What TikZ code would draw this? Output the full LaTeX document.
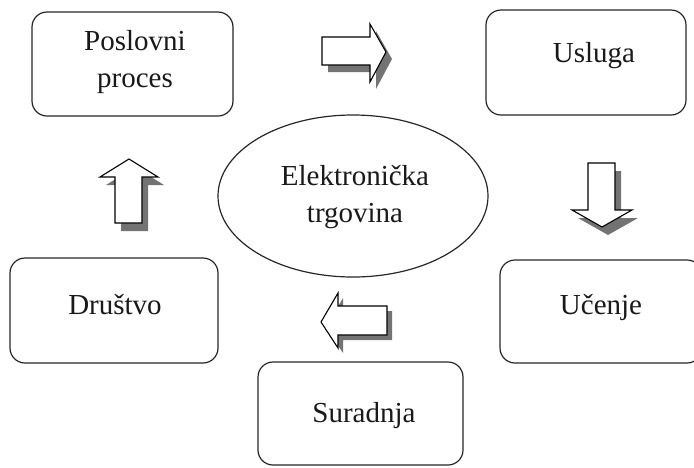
\documentclass[tikz,border=0pt]{standalone}
\usepackage{fontspec}
\setmainfont{Liberation Serif}
\begin{document}
\begin{tikzpicture}[x=1pt,y=-1pt,
  box/.style={draw=black!85,line width=1.2pt,rounded corners=15pt,fill=white},
  lbl/.style={font=\fontsize{29}{37}\selectfont,anchor=base,inner sep=0pt,text=black!90},
  arr/.style={draw=black,line width=1.1pt,fill=white,line join=miter},
  shad/.style={fill=black!55,draw=none}]
\useasboundingbox (0,0) rectangle (694,467);
% boxes
\draw[box] (32,12) rectangle (233,116);
\node[lbl] (pp1) at (135,50) {Poslovni};
\node[lbl] (pp2) at (135,87) {proces};
\draw[box] (486,10) rectangle (686,115);
\node[lbl] (us) at (594,62) {Usluga};
\draw[box] (10,258) rectangle (218,363);
\node[lbl] (dr) at (115,314) {Društvo};
\draw[box] (500,260) rectangle (702,363);
\node[lbl] (uc) at (601,314) {Učenje};
\draw[box] (258,362) rectangle (463,465);
\node[lbl] (su) at (364,422) {Suradnja};
% ellipse
\draw[line width=1.2pt,draw=black!85] (353,196) ellipse [x radius=135pt,y radius=81pt];
\node[lbl] (et1) at (355,185) {Elektronička};
\node[lbl] (et2) at (355,222) {trgovina};
% right arrow
\fill[shad,shift={(6,7)}] (322,37) -- (370,37) -- (370,24) -- (386,52) -- (370,82) -- (370,65) -- (322,65) -- cycle;
\draw[arr] (322,37) -- (370,37) -- (370,24) -- (386,52) -- (370,82) -- (370,65) -- (322,65) -- cycle;
% up arrow
\fill[shad,shift={(6,8)}] (115,223) -- (115,177) -- (100,177) -- (129,159) -- (158,177) -- (142,177) -- (142,223) -- cycle;
\draw[arr] (115,223) -- (115,177) -- (100,177) -- (129,159) -- (158,177) -- (142,177) -- (142,223) -- cycle;
% down arrow
\fill[shad,shift={(6,8)}] (588,163) -- (615,163) -- (615,210) -- (632,210) -- (602,227) -- (572,210) -- (588,210) -- cycle;
\draw[arr] (588,163) -- (615,163) -- (615,210) -- (632,210) -- (602,227) -- (572,210) -- (588,210) -- cycle;
% left arrow
\fill[shad,shift={(5,5)}] (387,306) -- (338,306) -- (338,293) -- (321,322) -- (338,348) -- (338,335) -- (387,335) -- cycle;
\draw[arr] (387,306) -- (338,306) -- (338,293) -- (321,322) -- (338,348) -- (338,335) -- (387,335) -- cycle;
\end{tikzpicture}
\end{document}
